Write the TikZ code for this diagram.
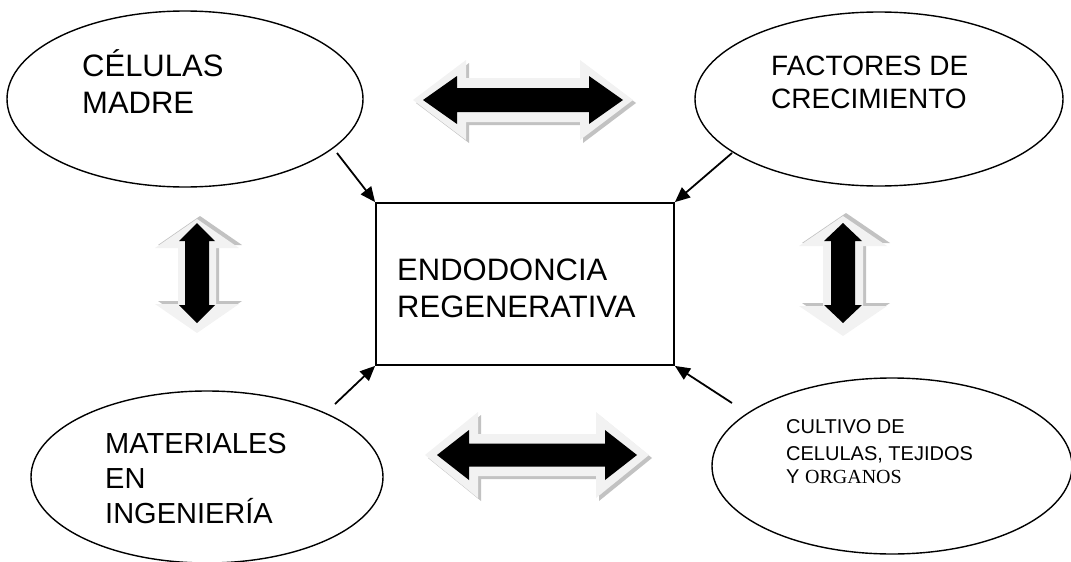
\documentclass[tikz,border=0pt]{standalone}
\usepackage{fontspec}
\setmainfont{Liberation Sans}
\newfontfamily\serifb{Liberation Serif}
\usetikzlibrary{shapes.geometric,arrows.meta}
% double arrow path: half length, head length, head half width, shaft half width
\newcommand{\dblpath}[4]{(-#1,0) -- (-#1+#2,#3) -- (-#1+#2,#4) -- (#1-#2,#4) -- (#1-#2,#3) -- (#1,0) -- (#1-#2,-#3) -- (#1-#2,-#4) -- (-#1+#2,-#4) -- (-#1+#2,-#3) -- cycle}
% light bevelled arrow behind: centre x, centre y, rotation, L, H, W, S
\newcommand{\outerarrow}[7]{%
  \begin{scope}[shift={(#1,#2)},rotate=#3]
    \fill[shadowarr,shift={(3,3)}] \dblpath{#4}{#5}{#6}{#7};
    \fill[outerarr] \dblpath{#4}{#5}{#6}{#7};
  \end{scope}}
% black arrow in front
\newcommand{\innerarrow}[7]{%
  \begin{scope}[shift={(#1,#2)},rotate=#3]
    \fill[innerarr] \dblpath{#4}{#5}{#6}{#7};
  \end{scope}}
\tikzset{
  bubble/.style={ellipse, draw, line width=1.4pt, inner sep=0pt},
  mainbox/.style={rectangle, draw, line width=1.8pt, inner sep=0pt},
  lbl/.style={anchor=base west, inner sep=0pt},
  conn/.style={line width=1.8pt, -{Triangle[length=15pt,width=13pt]}},
  shadowarr/.style={fill=black!24},
  outerarr/.style={fill=black!5},
  innerarr/.style={fill=black},
}
\begin{document}
\begin{tikzpicture}[x=1pt,y=-1pt]
\useasboundingbox (0,0) rectangle (1071,562);

% block arrows
\outerarrow{523}{100}{0}{110}{53}{40}{22}
\innerarrow{523}{100}{0}{100}{34}{24}{12}
\outerarrow{537}{455}{0}{112}{53}{43}{21}
\innerarrow{537}{455}{0}{100}{32}{25}{11.5}
\outerarrow{197}{276}{90}{57}{29}{42}{19}
\innerarrow{197}{273}{90}{50}{18}{18}{12}
\outerarrow{843}{276}{90}{60}{30}{44}{20}
\innerarrow{843}{273}{90}{50}{18}{19}{12}

% ellipses
\node[bubble, minimum width=356pt, minimum height=176pt] (cm) at (185,99) {};
\node[bubble, minimum width=368pt, minimum height=174pt] (fc) at (879,99) {};
\node[bubble, minimum width=352pt, minimum height=172pt] (mi) at (207,477) {};
\node[bubble, minimum width=360pt, minimum height=176pt] (ct) at (892,466) {};

% central box
\node[mainbox, minimum width=298pt, minimum height=162pt] (er) at (525,284) {};

% texts
\node[lbl, font=\fontsize{31}{37}\selectfont] (cm1) at (82,76) {CÉLULAS};
\node[lbl, font=\fontsize{31}{37}\selectfont] (cm2) at (82,113) {MADRE};
\node[lbl, font=\fontsize{28}{33}\selectfont] (fc1) at (771,75) {FACTORES DE};
\node[lbl, font=\fontsize{28}{33}\selectfont] (fc2) at (771,108) {CRECIMIENTO};
\node[lbl, font=\fontsize{31}{37}\selectfont] (er1) at (397,280) {ENDODONCIA};
\node[lbl, font=\fontsize{31}{37}\selectfont] (er2) at (397,317) {REGENERATIVA};
\node[lbl, font=\fontsize{29}{35}\selectfont] (mi1) at (105,453) {MATERIALES};
\node[lbl, font=\fontsize{29}{35}\selectfont] (mi2) at (105,488) {EN};
\node[lbl, font=\fontsize{29}{35}\selectfont] (mi3) at (105,523) {INGENIERÍA};
\node[lbl, font=\fontsize{20}{25}\selectfont] (ct1) at (786,433) {CULTIVO DE};
\node[lbl, font=\fontsize{20}{25}\selectfont] (ct2) at (786,460) {CELULAS, TEJIDOS};
\node[lbl, font=\fontsize{20}{25}\selectfont] (ct3) at (786,483) {Y {\serifb ORGANOS}};

% connectors
\coordinate (s1) at (337,153);
\coordinate (s2) at (732,153);
\coordinate (s3) at (335,404);
\coordinate (s4) at (732,403);
\draw[conn] (s1) -- (er.north west);
\draw[conn] (s2) -- (er.north east);
\draw[conn] (s3) -- (er.south west);
\draw[conn] (s4) -- (er.south east);
\end{tikzpicture}
\end{document}
